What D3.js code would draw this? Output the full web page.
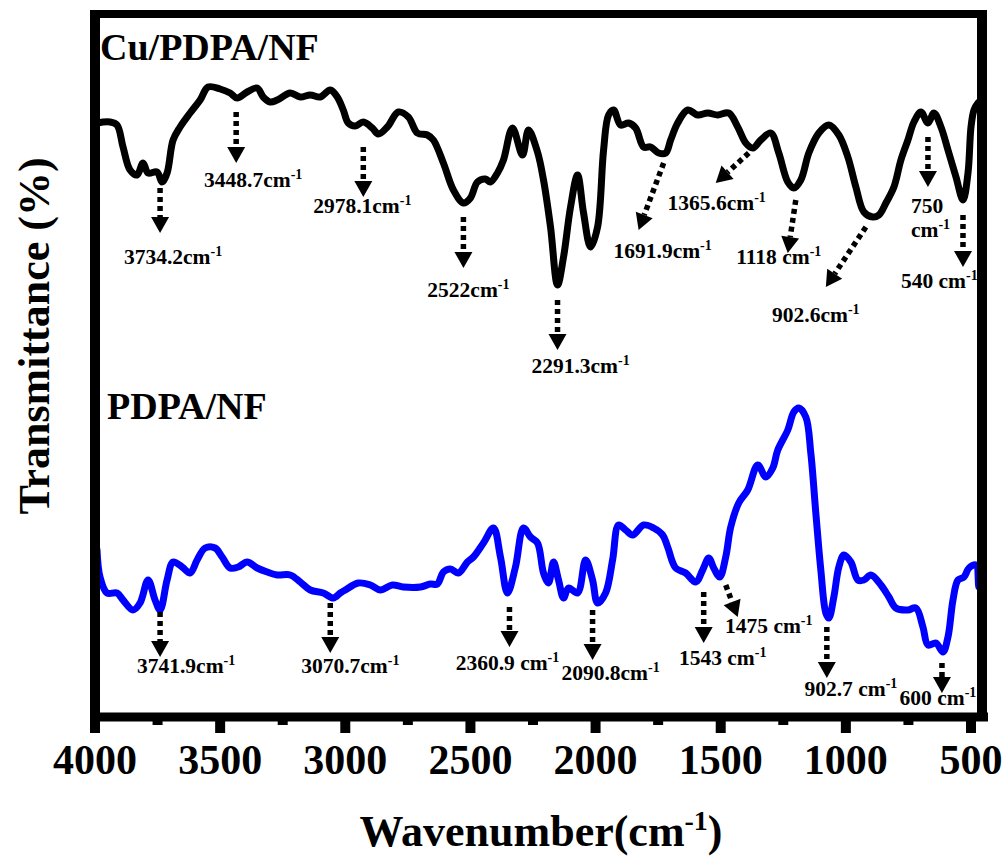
<!DOCTYPE html>
<html>
<head>
<meta charset="utf-8">
<script src="https://cdn.jsdelivr.net/npm/d3@7"></script>
<style>
  html, body { margin: 0; padding: 0; background: #fff; }
  svg { display: block; }
  text { font-family: "Liberation Serif", "Times New Roman", serif; font-weight: bold; fill: #000; }
</style>
</head>
<body>
<svg id="chart" width="1008" height="861"></svg>
<script>
// ---- data (wavenumber in cm-1, transmittance in arbitrary units) ----
const wnCu = [3992,3940,3912,3888,3860,3832,3808,3788,3752,3732,3712,3688,3660,3620,3580,3548,3500,3460,3432,3392,3352,3328,3300,3272,3220,3180,3140,3100,3060,3032,3008,2988,2960,2928,2892,2868,2832,2788,2748,2712,2672,2648,2608,2568,2528,2500,2472,2440,2420,2392,2368,2332,2292,2268,2232,2208,2180,2152,2128,2100,2072,2048,2020,1992,1968,1948,1928,1900,1868,1840,1808,1780,1748,1720,1700,1672,1632,1592,1552,1512,1468,1432,1400,1372,1340,1300,1268,1232,1208,1180,1148,1108,1068,1028,992,960,928,892,868,840,808,780,752,728,700,672,648,620,592,560,532,512,500,488,472,450];
const tCu  = [59.0,59.1,58.8,56.6,54.3,53.8,55.0,54.0,54.1,53.1,54.0,57.3,58.6,60.0,61.3,62.6,62.4,62.0,61.5,62.1,62.5,61.6,61.1,61.3,62.0,61.6,61.8,61.6,62.3,61.6,60.3,59.0,58.7,59.1,58.5,57.9,58.6,60.1,59.6,58.0,57.8,57.3,55.0,52.3,51.0,51.5,53.1,53.4,53.1,54.0,55.3,58.5,55.8,58.3,56.1,53.3,48.6,42.8,45.6,50.6,53.8,50.0,46.6,48.6,56.3,59.8,60.3,58.8,59.0,58.5,56.6,56.6,56.0,56.0,57.3,59.0,60.3,59.8,60.0,59.8,60.0,58.6,57.0,56.5,57.3,58.0,56.0,53.1,52.5,53.3,56.0,58.0,58.8,57.8,55.6,52.6,50.1,49.6,49.8,51.0,52.6,55.3,57.3,59.1,60.1,59.0,60.0,58.6,56.3,53.6,51.3,54.0,58.6,60.3,61.0,61.5];

const wnPD = [3992,3980,3952,3912,3888,3848,3820,3788,3760,3740,3712,3688,3652,3620,3592,3560,3520,3492,3460,3428,3392,3352,3312,3272,3220,3180,3140,3088,3048,3020,3000,2948,2900,2860,2812,2768,2700,2660,2632,2608,2580,2548,2512,2488,2448,2408,2380,2352,2320,2288,2260,2232,2208,2188,2168,2148,2128,2108,2072,2040,2012,1992,1960,1932,1908,1880,1852,1808,1768,1732,1712,1680,1640,1600,1572,1548,1528,1504,1480,1460,1428,1392,1352,1320,1292,1272,1232,1208,1188,1160,1140,1120,1100,1080,1068,1048,1028,1008,980,952,928,900,860,828,800,752,720,692,672,640,612,592,572,552,528,508,480,468,455];
const tPD  = [16.3,13.6,12.0,12.0,11.3,10.3,11.0,13.3,11.3,10.3,13.3,15.1,14.6,14.0,15.3,16.5,16.5,15.6,14.5,14.6,15.1,14.5,14.1,13.8,13.8,13.1,12.3,12.0,11.5,12.0,12.3,13.0,12.8,12.3,12.8,12.6,12.6,12.9,12.9,14.1,14.4,14.0,15.1,15.6,17.0,18.5,15.6,12.0,14.6,18.5,17.6,17.0,14.0,13.0,15.1,13.3,11.5,12.5,12.0,15.3,13.3,11.0,12.0,15.3,18.8,18.3,17.8,18.8,18.5,17.8,16.6,14.5,14.0,13.1,14.3,15.5,14.5,13.6,15.6,18.6,21.0,22.3,24.8,23.6,24.5,26.3,28.3,30.1,30.5,29.6,26.0,20.0,14.3,10.0,9.5,11.6,14.6,15.8,15.1,13.3,13.3,13.8,12.8,11.6,10.5,10.3,10.5,8.6,6.8,7.0,6.1,7.6,11.3,13.3,13.6,14.5,14.8,12.6,14.0];

const xTicksMajor = [4000,3500,3000,2500,2000,1500,1000,500];
const xTicksMinor = [3750,3250,2750,2250,1750,1250,750];

// annotations: label, superscript, arrow start (wn, t), arrow tip (wn, t), label anchor (wn, t), text-anchor
const annCu = [
  ["3734.2cm","-1", 3740,52.5, 3740,48.0, 3688,44.9, "middle"],
  ["3448.7cm","-1", 3436,60.1, 3436,55.0, 3368,52.6, "middle"],
  ["2978.1cm","-1", 2928,56.6, 2928,51.6, 2932,50.0, "middle"],
  ["2522cm","-1",   2528,49.6, 2528,44.5, 2508,41.6, "middle"],
  ["2291.3cm","-1", 2152,41.3, 2152,36.3, 2060,34.0, "middle"],
  ["1691.9cm","-1", 1728,55.0, 1828,48.3, 1732,45.5, "middle"],
  ["1365.6cm","-1", 1388,56.0, 1520,53.0, 1516,50.3, "middle"],
  ["1118 cm","-1",  1200,51.3, 1232,46.0, 1268,44.9, "middle"],
  ["902.6cm","-1",  920,48.6, 1080,42.6, 1120,39.1, "middle"],
  ["750","",        672,57.6, 672,52.6, 740,50.0, "start"],
  ["cm","-1",       null,null,null,null, 740,47.6, "start"],
  ["540 cm","-1",   532,49.8, 532,44.6, 780,42.5, "start"]
];
const annPD = [
  ["3741.9cm","-1", 3740,10.1, 3740,5.6, 3636,4.0, "middle"],
  ["3070.7cm","-1", 3060,11.0, 3060,6.0, 2980,4.0, "middle"],
  ["2360.9 cm","-1",2344,10.6, 2344,6.6, 2352,4.3, "middle"],
  ["2090.8cm","-1", 2012,10.3, 2012,5.3, 1940,3.3, "middle"],
  ["1543 cm","-1",  1568,12.1, 1568,7.0, 1492,4.8, "middle"],
  ["1475 cm","-1",  1480,12.8, 1432,9.6, 1308,8.0, "middle"],
  ["902.7 cm","-1", 1076,8.6, 1076,3.5, 980,1.7, "middle"],
  ["600 cm","-1",   616,5.0, 616,2.0, 632,0.8, "middle"]
];

// ---- layout ----
const svg = d3.select("#chart");
const L = 95, R = 982, T = 14, B = 717;
const x = d3.scaleLinear().domain([4000, 500]).range([95, 971]);
const y = d3.scaleLinear().domain([0, 70]).range([713, 13]);

svg.append("defs").append("clipPath").attr("id", "clip")
  .append("rect").attr("x", L).attr("y", T).attr("width", R - L).attr("height", B - T);

const line = d3.line().x(d => x(d[0])).y(d => y(d[1])).curve(d3.curveCatmullRom.alpha(0.5));

const g = svg.append("g").attr("clip-path", "url(#clip)");
g.append("path").datum(wnCu.map((w, i) => [w, tCu[i]]))
  .attr("d", line).attr("fill", "none").attr("stroke", "#000")
  .attr("stroke-width", 7).attr("stroke-linejoin", "round").attr("stroke-linecap", "round");
g.append("path").datum(wnPD.map((w, i) => [w, tPD[i]]))
  .attr("d", line).attr("fill", "none").attr("stroke", "#0000ff")
  .attr("stroke-width", 7).attr("stroke-linejoin", "round").attr("stroke-linecap", "round");

// frame
svg.append("line").attr("x1", L).attr("x2", L).attr("y1", T - 4).attr("y2", B).attr("stroke", "#000").attr("stroke-width", 10);
svg.append("line").attr("x1", R).attr("x2", R).attr("y1", T - 4).attr("y2", B).attr("stroke", "#000").attr("stroke-width", 10);
svg.append("line").attr("x1", L - 5).attr("x2", R + 5).attr("y1", T).attr("y2", T).attr("stroke", "#000").attr("stroke-width", 8);

// bottom axis
const axisG = svg.append("g").attr("transform", `translate(0,${B})`);
axisG.append("line").attr("x1", L - 5).attr("x2", R + 6).attr("y1", 0).attr("y2", 0).attr("stroke", "#000").attr("stroke-width", 9);
axisG.selectAll(".maj").data(xTicksMajor).enter().append("line")
  .attr("x1", d => x(d)).attr("x2", d => x(d)).attr("y1", 0).attr("y2", 16)
  .attr("stroke", "#000").attr("stroke-width", 10);
axisG.selectAll(".min").data(xTicksMinor).enter().append("line")
  .attr("x1", d => x(d)).attr("x2", d => x(d)).attr("y1", 0).attr("y2", 8)
  .attr("stroke", "#000").attr("stroke-width", 10);
axisG.selectAll(".lab").data(xTicksMajor).enter().append("text")
  .attr("x", d => x(d)).attr("y", 57).attr("text-anchor", "middle")
  .attr("font-size", 42).text(d => d);

// axis titles
const xt = svg.append("text").attr("x", 541).attr("y", 846).attr("text-anchor", "middle").attr("font-size", 44);
xt.append("tspan").text("Wavenumber(cm");
xt.append("tspan").attr("font-size", 28).attr("dy", -16).text("-1");
xt.append("tspan").attr("dy", 16).text(")");

svg.append("text").attr("transform", "translate(49,336) rotate(-90)")
  .attr("text-anchor", "middle").attr("font-size", 44).text("Transmittance (%)");

// series titles
svg.append("text").attr("x", x(3980)).attr("y", y(65.3)).attr("font-size", 38).text("Cu/PDPA/NF");
svg.append("text").attr("x", x(3952)).attr("y", y(29.4)).attr("font-size", 38).text("PDPA/NF");

// annotations
function drawAnn(list) {
  list.forEach(a => {
    const [lab, sup, w1, t1, w2, t2, wl, tl, anchor] = a;
    if (w1 !== null) {
      const x1 = x(w1), y1 = y(t1), x2 = x(w2), y2 = y(t2);
      const dx = x2 - x1, dy = y2 - y1, len = Math.hypot(dx, dy);
      const ux = dx / len, uy = dy / len;
      const headL = 16, headW = 9;
      const bx = x2 - ux * headL, by = y2 - uy * headL;
      svg.append("line").attr("x1", x1).attr("y1", y1).attr("x2", bx).attr("y2", by)
        .attr("stroke", "#000").attr("stroke-width", 5.5).attr("stroke-dasharray", "5 4");
      svg.append("path")
        .attr("d", `M${x2},${y2}L${bx - uy * headW},${by + ux * headW}L${bx + uy * headW},${by - ux * headW}Z`)
        .attr("fill", "#000");
    }
    const t = svg.append("text").attr("x", x(wl)).attr("y", y(tl)).attr("text-anchor", anchor).attr("font-size", 21.5);
    t.append("tspan").text(lab);
    if (sup) t.append("tspan").attr("font-size", 14).attr("dy", -8).text(sup);
  });
}
drawAnn(annCu);
drawAnn(annPD);
</script>
</body>
</html>
